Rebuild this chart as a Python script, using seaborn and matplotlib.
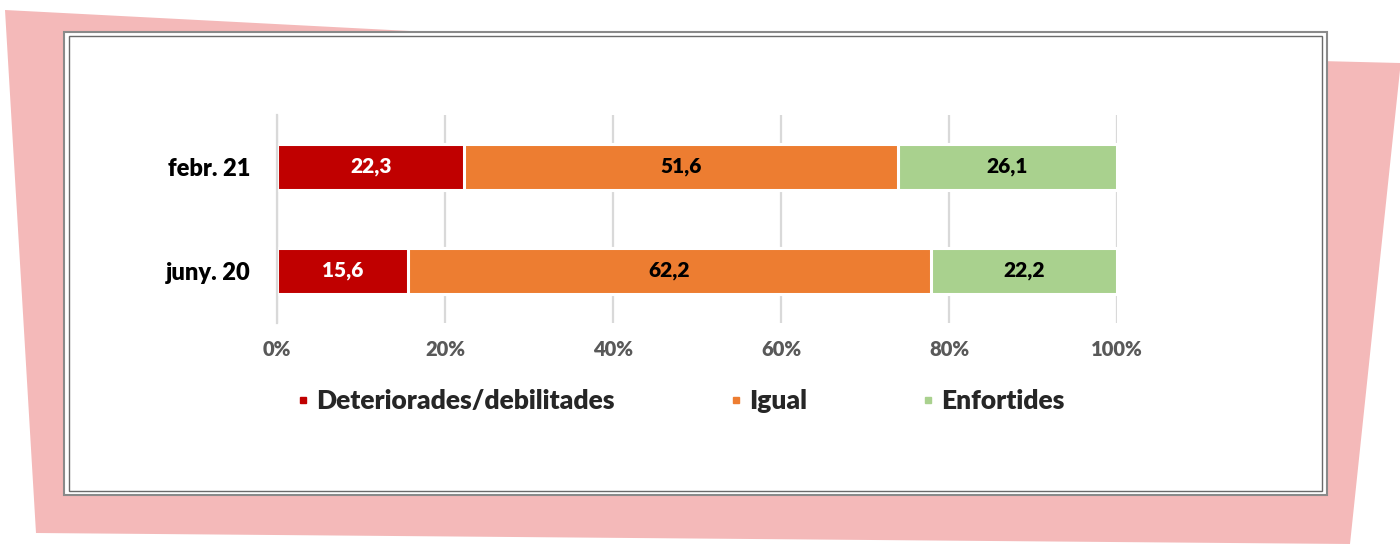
import numpy as np
import pandas as pd
import matplotlib
matplotlib.use("Agg")
import matplotlib.pyplot as plt
import seaborn as sns
from matplotlib.patches import Polygon, Rectangle
from matplotlib.lines import Line2D

# data
periods = ["febr. 21", "juny. 20"]
series = ["Deteriorades/debilitades", "Igual", "Enfortides"]
deteriorades = [22.3, 15.6]
igual = [51.6, 62.2]
enfortides = [26.1, 22.2]
colors = ["#C00000", "#ED7D31", "#A9D18E"]
label_colors = ["white", "black", "black"]
xticks = [0, 20, 40, 60, 80, 100]

sns.set_style("white")
plt.rcParams["font.family"] = ["Lato", "DejaVu Sans"]
plt.rcParams["font.weight"] = "heavy"
wt = "heavy"

W, H = 1400, 544
fig = plt.figure(figsize=(W / 100, H / 100), dpi=100)

def px(pts):
    return [(x / W, 1 - y / H) for x, y in pts]

# pink background shape + white framed box (behind the axes)
fig.patches.append(Polygon(px([(5, 10), (680, 45), (1400, 63), (1400, 70), (1350, 544), (36, 533)]),
                           closed=True, transform=fig.transFigure, facecolor="#F4B9B9",
                           edgecolor="none", zorder=-3))
fig.patches.append(Rectangle((64 / W, 1 - 495 / H), (1327 - 64) / W, (495 - 32) / H,
                             transform=fig.transFigure, facecolor="white",
                             edgecolor="#8a8a8a", lw=1.5, zorder=-2))
fig.patches.append(Rectangle((68.5 / W, 1 - 490.5 / H), (1322 - 68.5) / W, (490.5 - 36) / H,
                             transform=fig.transFigure, facecolor="none",
                             edgecolor="#6a6a6a", lw=1.0, zorder=-1))

ax = fig.add_axes([277 / W, 1 - 323 / H, (1117 - 277) / W, (323 - 115) / H])
ax.patch.set_alpha(0)

df = pd.DataFrame({"periode": periods,
                   series[0]: deteriorades,
                   series[1]: igual,
                   series[2]: enfortides})
cum = df[series].cumsum(axis=1)

# stacked bars: draw cumulative totals, largest first
for i in range(len(series) - 1, -1, -1):
    sns.barplot(x=cum[series[i]], y=df["periode"], orient="h", color=colors[i],
                width=0.45, edgecolor="white", linewidth=2.2, saturation=1, ax=ax)

# containers are in reverse order of series
for k, cont in enumerate(ax.containers):
    i = len(series) - 1 - k
    vals = df[series[i]].values
    starts = cum[series[i]].values - vals
    for rect, v, s in zip(cont, vals, starts):
        ax.text(s + v / 2, rect.get_y() + rect.get_height() / 2,
                f"{v:.1f}".replace(".", ","), ha="center", va="center",
                color=label_colors[i], fontsize=15, fontweight=wt)

ax.set_xlim(0, 100)
ax.set_ylim(1.5, -0.5)
ax.set_xticks(xticks)
ax.set_xticklabels([f"{t}%" for t in xticks], color="#595959", fontsize=14.5, fontweight=wt)
ax.set_yticks([0, 1])
ax.set_yticklabels(periods, fontsize=17, fontweight=wt, color="black")
ax.set_yticks([-0.5, 0.5, 1.5], minor=True)
ax.tick_params(axis="y", which="major", length=0, pad=19)
ax.tick_params(axis="y", which="minor", length=5, width=1.5, color="#D9D9D9")
ax.tick_params(axis="x", length=0, pad=12)
ax.set_xlabel("")
ax.set_ylabel("")
ax.grid(axis="x", color="#D9D9D9", lw=1.6)
ax.set_axisbelow(True)
for s in ["top", "right", "bottom"]:
    ax.spines[s].set_visible(False)
ax.spines["left"].set_color("#D9D9D9")
ax.spines["left"].set_linewidth(1.6)

handles = [Line2D([], [], marker="s", ls="", markersize=4.5, color=c) for c in colors]
fig.legend(handles, series, loc="center", bbox_to_anchor=(681 / W, 1 - 401 / H), ncol=3,
           frameon=False, handlelength=0.4, handletextpad=0.3, columnspacing=4.4,
           prop={"size": 19, "weight": wt})

fig.savefig("out.png", dpi=100)
